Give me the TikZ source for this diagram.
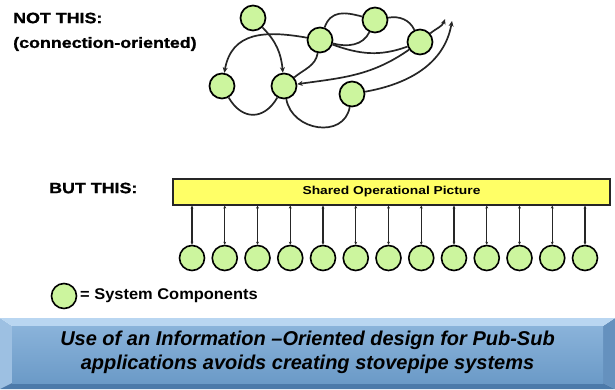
\documentclass[tikz,border=0pt]{standalone}
\usepackage{graphicx}
\usepackage{fontspec}
\setmainfont{Liberation Sans}
\newfontfamily\heavyfont{Liberation Sans Bold}[FakeBold=1]
\usetikzlibrary{arrows.meta}
\definecolor{compgreen}{HTML}{CCF59E}
\definecolor{sopyellow}{HTML}{FFFF66}
\definecolor{bannertop}{HTML}{B9D6F1}
\definecolor{bannerleft}{HTML}{9DC0E2}
\definecolor{bannerright}{HTML}{6591BE}
\definecolor{bannerbottom}{HTML}{4C7AAA}
\definecolor{bannerhi}{HTML}{8AB3DA}
\definecolor{bannerlo}{HTML}{6B9AC7}
\newcommand{\hstretch}[2]{\scalebox{#1}[1]{#2}}
\begin{document}
\begin{tikzpicture}[x=1pt,y=1pt,
  comp/.style={circle, draw=black, line width=1.7pt, fill=compgreen, minimum size=25pt, inner sep=0pt},
  link/.style={line width=1.7pt, draw=black!85},
  arr/.style={link, -{Stealth[length=5.5pt,width=5pt]}},
  barr/.style={line width=1.2pt, draw=black!85, {Stealth[length=3pt,width=2.8pt]}-{Stealth[length=3pt,width=2.8pt]}},
  lbl/.style={font=\fontsize{15}{18}\selectfont\heavyfont, anchor=west, inner sep=0pt},
]
\useasboundingbox (0,0) rectangle (615,-389);
\fill[white] (0,0) rectangle (615,-389);

% ---------- top: connection-oriented ----------
\node[lbl] (notthis) at (13,-18) {\hstretch{1.19}{NOT THIS:}};
\node[lbl] (connor) at (13,-44) {\hstretch{1.19}{(connection-oriented)}};

\node[comp] (A) at (253,-18) {};
\node[comp] (B) at (320,-40) {};
\node[comp] (C) at (375,-20) {};
\node[comp] (D) at (420,-42) {};
\node[comp] (E) at (222,-86) {};
\node[comp] (F) at (284,-86) {};
\node[comp] (G) at (352,-94) {};
\coordinate (dtip) at (445,-19);
\coordinate (gtip) at (452,-21);

\draw[arr] (A) to[out=-45,in=95] (F);
\draw[arr] (B) to[out=170,in=80,looseness=1.2] (E);
\draw[link] (E) to[out=-60,in=-120,looseness=1.4] (F);
\draw[link] (F) to[out=-80,in=-100,looseness=1.3] (G);
\draw[link] (B) to[out=-100,in=40] (F);
\draw[arr] (D) to[out=-145,in=8] (F);
\draw[link] (B) to[out=70,in=165,looseness=1.2] (C);
\draw[link] (C) to[out=10,in=115] (D);
\draw[link] (B) to[out=-15,in=-115] (C);
\draw[link] (B) to[out=-20,in=-160] (D);
\draw[arr] (D) to[out=40,in=-110] (dtip);
\draw[arr] (G) to[out=10,in=-100] (gtip);

% ---------- middle: information-oriented ----------
\node[lbl] (butthis) at (49,-188) {\hstretch{1.19}{BUT THIS:}};
\node[draw=black!85, line width=1.1pt, fill=sopyellow, minimum width=437pt, minimum height=26pt,
      inner sep=0pt, font=\fontsize{11.5}{14}\selectfont\bfseries] (sop) at (391.5,-192)
      {\hstretch{1.2}{Shared Operational Picture}};

\foreach \i in {0,...,12} {
  \node[comp, line width=1.6pt] (c\i) at ({192+32.75*\i},-258) {};
  \draw[barr] (c\i.north) -- (c\i.north |- sop.south);
}

% ---------- legend ----------
\node[comp, line width=1.6pt] (legend) at (64,-296) {};
\node[lbl, font=\fontsize{15.5}{18}\selectfont\bfseries] (legtext) at (80,-296) {\hstretch{1.06}{= System Components}};

% ---------- banner ----------
\fill[bannerleft] (0,-318) -- (12,-326) -- (12,-383) -- (0,-389) -- cycle;
\fill[bannerright] (615,-318) -- (603,-326) -- (603,-383) -- (615,-389) -- cycle;
\fill[bannertop] (0,-318) -- (615,-318) -- (603,-326) -- (12,-326) -- cycle;
\fill[bannerbottom] (0,-389) -- (12,-383) -- (603,-383) -- (615,-389) -- cycle;
\shade[top color=bannerhi, bottom color=bannerlo] (12,-326) rectangle (603,-383);
\node[align=center, font=\fontsize{20}{24}\selectfont\bfseries\itshape, inner sep=0pt] (banner) at (307.5,-352)
  {Use of an Information --Oriented design for Pub-Sub\\applications avoids creating stovepipe systems};
\end{tikzpicture}
\end{document}
